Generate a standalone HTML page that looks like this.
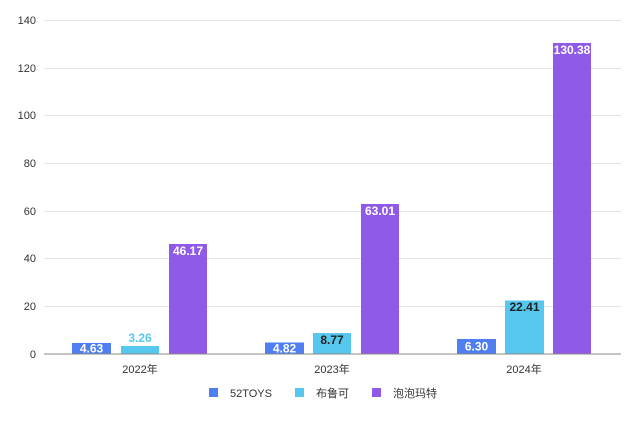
<!DOCTYPE html>
<html><head><meta charset="utf-8"><style>
body{margin:0;background:#fff;}
svg{display:block;font-family:"Liberation Sans","Noto Sans CJK SC",sans-serif;}
</style></head><body>
<svg width="640" height="427" viewBox="0 0 640 427">
<g stroke="#e3e3e3" stroke-width="1">
<line x1="44" y1="20.5" x2="621" y2="20.5"/>
<line x1="44" y1="68.5" x2="621" y2="68.5"/>
<line x1="44" y1="115.5" x2="621" y2="115.5"/>
<line x1="44" y1="163.5" x2="621" y2="163.5"/>
<line x1="44" y1="211.5" x2="621" y2="211.5"/>
<line x1="44" y1="258.5" x2="621" y2="258.5"/>
<line x1="44" y1="306.5" x2="621" y2="306.5"/>
</g>
<g font-size="11" fill="#333" text-anchor="end">
<text x="36" y="24">140</text><text x="36" y="72">120</text><text x="36" y="119">100</text>
<text x="36" y="167">80</text><text x="36" y="215">60</text><text x="36" y="262">40</text>
<text x="36" y="310">20</text><text x="36" y="358">0</text>
</g>
<g>
<rect x="72" y="343" width="39" height="11" fill="#4e7ef0"/>
<rect x="121" y="346" width="38" height="8" fill="#56c8f0"/>
<rect x="169" y="244" width="38" height="110" fill="#8f5ae8"/>
<rect x="265" y="342.5" width="39" height="11.5" fill="#4e7ef0"/>
<rect x="313" y="333" width="38" height="21" fill="#56c8f0"/>
<rect x="361" y="204" width="38" height="150" fill="#8f5ae8"/>
<rect x="457" y="339" width="39" height="15" fill="#4e7ef0"/>
<rect x="505" y="300.5" width="39" height="53.5" fill="#56c8f0"/>
<rect x="553" y="43" width="38" height="311" fill="#8f5ae8"/>
</g>
<line x1="44" y1="354" x2="621" y2="354" stroke="#888" stroke-width="1"/>
<g font-size="12" font-weight="bold" text-anchor="middle">
<text x="91.5" y="352.5" fill="#fff">4.63</text>
<text x="140" y="342" fill="#56c8f0">3.26</text>
<text x="188" y="255" fill="#fff">46.17</text>
<text x="284.5" y="352.5" fill="#fff">4.82</text>
<text x="332" y="344" fill="#222">8.77</text>
<text x="380" y="215" fill="#fff">63.01</text>
<text x="476.5" y="350.5" fill="#fff">6.30</text>
<text x="524.5" y="311" fill="#222">22.41</text>
<text x="572" y="54" fill="#fff">130.38</text>
</g>
<g font-size="11" fill="#333" text-anchor="middle">
<text x="140" y="373">2022年</text>
<text x="332" y="373">2023年</text>
<text x="524" y="373">2024年</text>
</g>
<g font-size="11" fill="#333">
<rect x="209" y="388" width="9" height="9" fill="#4e7ef0"/>
<text x="230" y="397">52TOYS</text>
<rect x="295" y="388" width="9" height="9" fill="#56c8f0"/>
<text x="316" y="397">布鲁可</text>
<rect x="372" y="388" width="9" height="9" fill="#8f5ae8"/>
<text x="393" y="397">泡泡玛特</text>
</g>
</svg>
</body></html>
